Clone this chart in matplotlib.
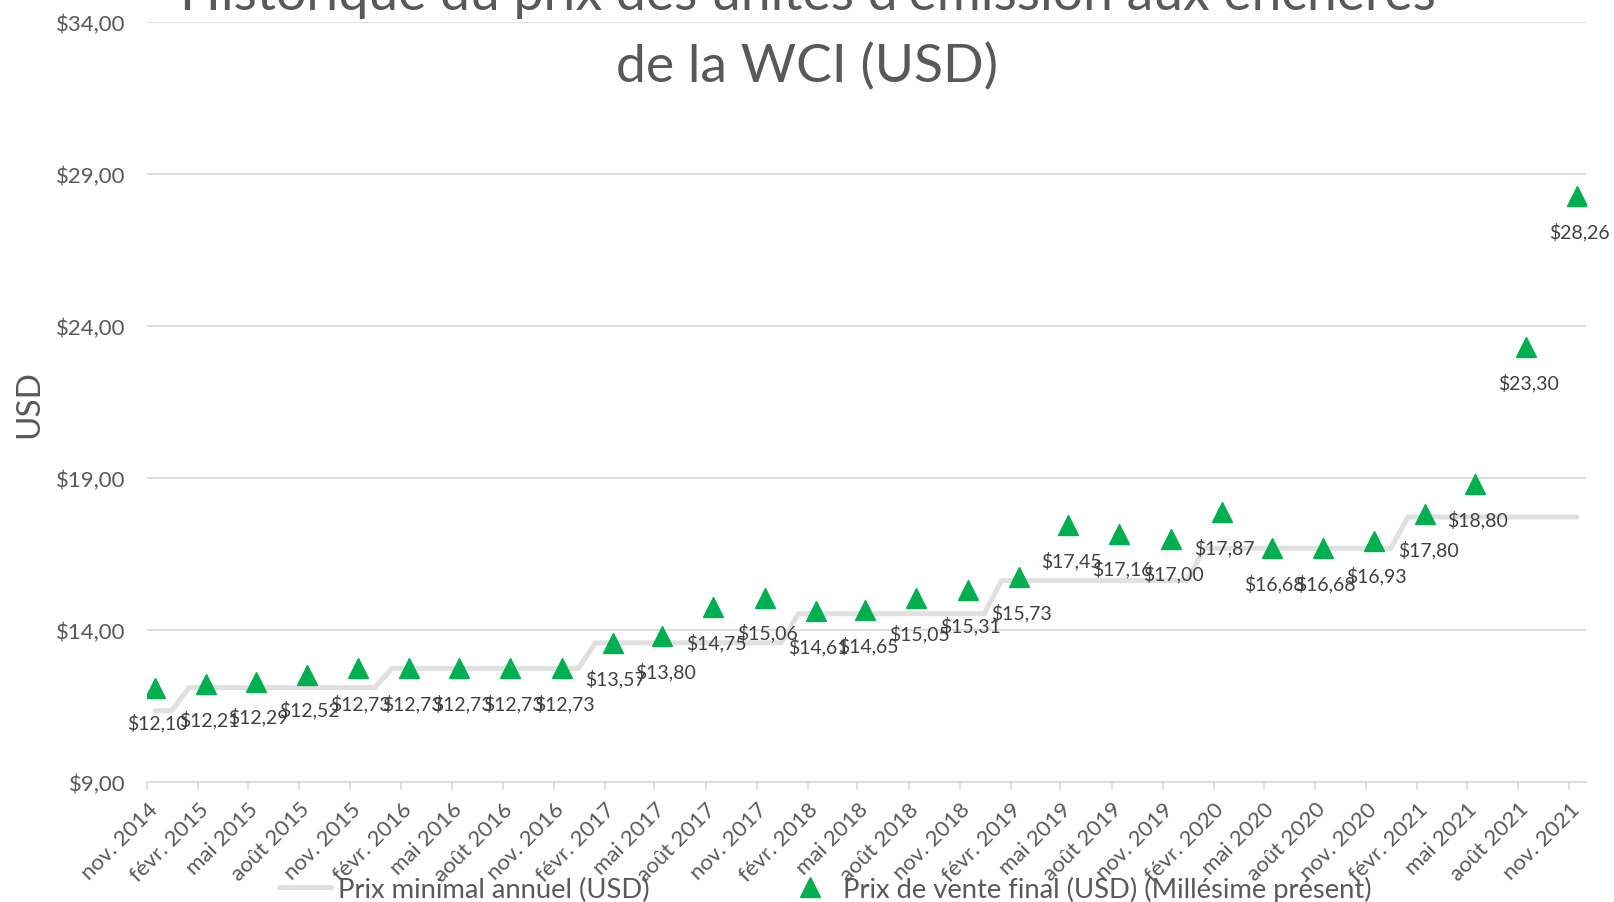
import matplotlib
matplotlib.use("Agg")
import matplotlib.pyplot as plt
import matplotlib.dates as mdates
from matplotlib.lines import Line2D
import datetime as dt

# ---------------- data ----------------
auction_months = ["2014-11", "2015-02", "2015-05", "2015-08", "2015-11",
                  "2016-02", "2016-05", "2016-08", "2016-11",
                  "2017-02", "2017-05", "2017-08", "2017-11",
                  "2018-02", "2018-05", "2018-08", "2018-11",
                  "2019-02", "2019-05", "2019-08", "2019-11",
                  "2020-02", "2020-05", "2020-08", "2020-11",
                  "2021-02", "2021-05", "2021-08", "2021-11"]
tick_labels = ["nov. 2014", "févr. 2015", "mai 2015", "août 2015", "nov. 2015",
               "févr. 2016", "mai 2016", "août 2016", "nov. 2016",
               "févr. 2017", "mai 2017", "août 2017", "nov. 2017",
               "févr. 2018", "mai 2018", "août 2018", "nov. 2018",
               "févr. 2019", "mai 2019", "août 2019", "nov. 2019",
               "févr. 2020", "mai 2020", "août 2020", "nov. 2020",
               "févr. 2021", "mai 2021", "août 2021", "nov. 2021"]
final_price = [12.10, 12.21, 12.29, 12.52, 12.73,
               12.73, 12.73, 12.73, 12.73,
               13.57, 13.80, 14.75, 15.06,
               14.61, 14.65, 15.05, 15.31,
               15.73, 17.45, 17.16, 17.00,
               17.87, 16.68, 16.68, 16.93,
               17.80, 18.80, 23.30, 28.26]
floor_years = [2014, 2015, 2016, 2017, 2018, 2019, 2020, 2021]
floor_price = [11.34, 12.10, 12.73, 13.57, 14.53, 15.62, 16.68, 17.71]

# ---------------- styling ----------------
FONT = "Lato"
plt.rcParams["font.family"] = [FONT, "DejaVu Sans"]
TXT = "#595959"
LBL = "#404040"
GRID = "#D9D9D9"
GREEN = "#00B050"
FLOOR = "#E0E0E0"

fig = plt.figure(figsize=(16.15, 9.03), dpi=100)
ax = fig.add_axes([147.3 / 1615, 1 - 782.8 / 903, (1586 - 147.3) / 1615, (782.8 - 22.7) / 903])

def mdate(ym, day):
    y, m = ym.split("-")
    return dt.date(int(y), int(m), day)

auction_dates = [mdate(s, 15) for s in auction_months]
tick_dates = [mdate(s, 1) for s in auction_months]

# annual floor price as a stepped line (value held through each year)
fx, fy = [], []
for yr, v in zip(floor_years, floor_price):
    start = dt.date(yr, 1, 15) if yr != floor_years[0] else auction_dates[0]
    end = dt.date(yr, 12, 15) if yr != floor_years[-1] else auction_dates[-1]
    fx += [start, end]
    fy += [v, v]

ax.plot(fx, fy, color=FLOOR, lw=3.6, solid_capstyle="round", solid_joinstyle="round", zorder=2)
ax.plot(auction_dates, final_price, ls="none", marker="^", ms=14, color=GREEN, mec=GREEN, zorder=3)

for d, v in zip(auction_dates, final_price):
    ax.annotate(f"${v:.2f}".replace(".", ","), (d, v), xytext=(2, -25), textcoords="offset points",
                ha="center", va="center", fontsize=14, color=LBL, zorder=4)

ax.set_xlim(dt.date(2014, 11, 1), dt.date(2021, 12, 1))
ax.set_ylim(9, 34)
ax.set_yticks([9, 14, 19, 24, 29, 34])
ax.set_yticklabels([f"${v},00" for v in [9, 14, 19, 24, 29, 34]])
ax.set_xticks([mdates.date2num(d) for d in tick_dates])
ax.set_xticklabels(tick_labels, rotation=45, ha="right", va="top", rotation_mode="anchor")

ax.grid(axis="y", color=GRID, lw=1.2)
ax.set_axisbelow(True)
for s in ["top", "right", "left"]:
    ax.spines[s].set_visible(False)
ax.spines["bottom"].set_color(GRID)
ax.spines["bottom"].set_linewidth(1.2)
ax.tick_params(axis="y", length=0, pad=16, labelsize=16, labelcolor=TXT)
ax.tick_params(axis="x", length=6, width=1.2, color=GRID, pad=6, labelsize=16, labelcolor=TXT)

fig.text(29 / 1615, 1 - 404 / 903, "USD", rotation=90, ha="center", va="center", fontsize=24, color=TXT)

fig.text(0.5, 1 - 10 / 903, "Historique du prix des unités d'émission aux enchères", ha="center",
         va="baseline", fontsize=38.5, color=TXT)
fig.text(0.5, 1 - 82 / 903, "de la WCI (USD)", ha="center", va="baseline", fontsize=38.5, color=TXT)

handles = [Line2D([], [], color=FLOOR, lw=3.6, solid_capstyle="round"),
           Line2D([], [], ls="none", marker="^", ms=14, color=GREEN)]
labels = ["Prix minimal annuel (USD)", "Prix de vente final (USD) (Millésime présent)"]
fig.legend(handles, labels, loc="center", bbox_to_anchor=(0.511, 1 - 890 / 903), ncol=2, frameon=False,
           fontsize=19.7, labelcolor=TXT, handlelength=1.9, columnspacing=4.9, handletextpad=0.25)

fig.savefig("out.png", dpi=100)
